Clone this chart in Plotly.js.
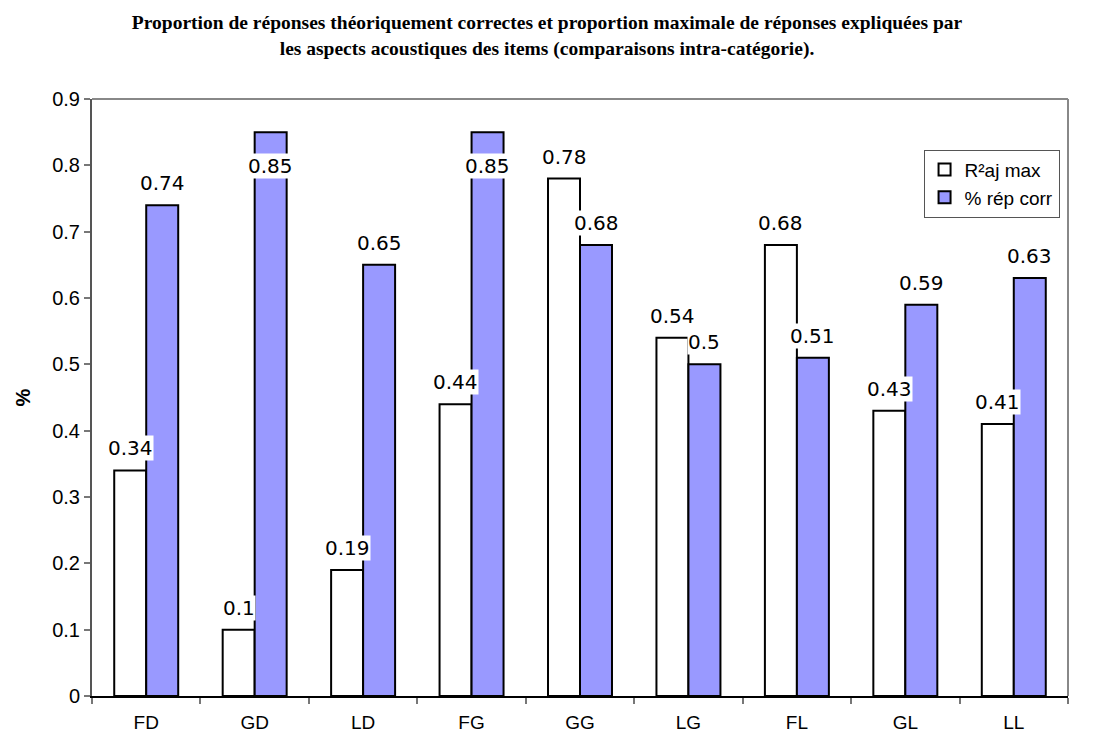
<!DOCTYPE html>
<html><head><meta charset="utf-8">
<script src="https://cdn.plot.ly/plotly-3.0.1.min.js"></script>
<style>body{margin:0;background:#fff}#c{width:1094px;height:733px}</style>
</head><body><div id="c"></div>
<script>
const categories = ['FD','GD','LD','FG','GG','LG','FL','GL','LL'];
const r2ajMax = [0.34,0.1,0.19,0.44,0.78,0.54,0.68,0.43,0.41];
const repCorr = [0.74,0.85,0.65,0.85,0.68,0.5,0.51,0.59,0.63];
const seriesNames = ['R²aj max','% rép corr'];

const traces = [
  {type:'bar', x:categories, y:r2ajMax, name:seriesNames[0],
   marker:{color:'#FFFFFF', line:{color:'#000000', width:2}}},
  {type:'bar', x:categories, y:repCorr, name:seriesNames[1],
   marker:{color:'#9999FF', line:{color:'#000000', width:2}}}
];

const ann = [];
function addLabels(vals, xs){
  vals.forEach((v,i)=>{
    ann.push({x:categories[i], y:v, xref:'x', yref:'y', text:String(v), showarrow:false,
      xshift:xs, yshift:(v>0.82?-34:22), bgcolor:'#FFFFFF', borderpad:0,
      font:{family:'DejaVu Sans, Verdana, sans-serif', size:20, color:'#000'}});
  });
}
addLabels(r2ajMax,-16);
addLabels(repCorr,16);
ann.push({xref:'paper', yref:'paper', x:-0.0717, xanchor:'center', y:0.5, yanchor:'middle', text:'<b>%</b>', showarrow:false, textangle:-90,
  font:{family:'Liberation Sans, Arial, sans-serif', size:20, color:'#000'}});

const layout = {
  width:1094, height:733,
  margin:{l:92, r:26, t:99, b:37},
  paper_bgcolor:'#fff', plot_bgcolor:'#fff',
  title:{text:'<b>Proportion de réponses théoriquement correctes et proportion maximale de réponses expliquées par<br>les aspects acoustiques des items (comparaisons intra-catégorie).</b>',
    font:{family:'Liberation Serif, Times New Roman, serif', size:19.5, color:'#000'},
    x:0.5, xanchor:'center', yref:'container', y:0.96, yanchor:'middle'},
  barmode:'group', bargap:0.41, bargroupgap:0,
  showlegend:true,
  legend:{x:0.852, y:0.915, xanchor:'left', yanchor:'top', bgcolor:'#fff', bordercolor:'#555', borderwidth:1,
    font:{family:'Liberation Sans, Arial, sans-serif', size:19, color:'#000'}, tracegroupgap:0, itemwidth:30},
  xaxis:{showline:true, linecolor:'#000', linewidth:2, ticks:'outside', tickson:'boundaries', ticklen:6,
    tickcolor:'#777', tickwidth:2, showgrid:false, zeroline:false, ticklabelstandoff:8,
    tickfont:{family:'Liberation Sans, Arial, sans-serif', size:19, color:'#000'}},
  yaxis:{range:[0,0.9], dtick:0.1, tickformat:'.1~f', showline:true, linecolor:'#555', linewidth:2,
    ticks:'outside', ticklen:6, tickcolor:'#777', tickwidth:2, showgrid:false, zeroline:false,
    tickfont:{family:'Liberation Sans, Arial, sans-serif', size:20, color:'#000'}},
  shapes:[
    {type:'line', xref:'paper', yref:'paper', x0:0, x1:1, y0:1, y1:1, line:{color:'#888', width:2}},
    {type:'line', xref:'paper', yref:'paper', x0:1, x1:1, y0:0, y1:1, line:{color:'#888', width:2}}
  ],
  annotations:ann
};
Plotly.newPlot('c', traces, layout, {displayModeBar:false});
</script></body></html>
